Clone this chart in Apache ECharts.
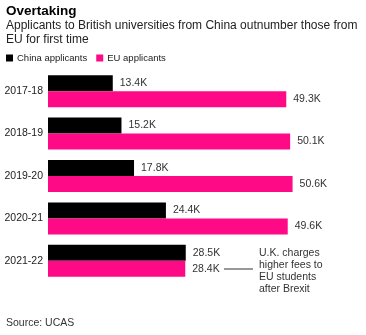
<!DOCTYPE html>
<html><head><meta charset="utf-8">
<script src="https://cdn.jsdelivr.net/npm/echarts@6/dist/echarts.min.js"></script>
<style>html,body{margin:0;padding:0;background:#fff}#c{width:366px;height:335px}</style>
</head><body><div id="c"></div>
<script>
const categories = ['2017-18','2018-19','2019-20','2020-21','2021-22'];
const chinaValues = [13.4,15.2,17.8,24.4,28.5];
const euValues = [49.3,50.1,50.6,49.6,28.4];
const seriesNames = ['China applicants','EU applicants'];
const titleText = 'Overtaking';
const subtitleText = 'Applicants to British universities from China outnumber those from\nEU for first time';
const sourceText = 'Source: UCAS';
const noteText = 'U.K. charges\nhigher fees to\nEU students\nafter Brexit';

const FONT = '"Liberation Sans", Arial, sans-serif';
const chart = echarts.init(document.getElementById('c'), null, {renderer:'canvas'});
const lbl = {show:true, position:'right', distance:7, color:'#333', fontSize:10.5, fontFamily:FONT,
  formatter: p => p.value.toFixed(1) + 'K'};
chart.setOption({
  animation:false,
  textStyle:{fontFamily:FONT},
  title:[
    {text:titleText, left:6, top:0, padding:[4,0,0,0], textStyle:{fontSize:13.5, fontWeight:'bold', color:'#000', fontFamily:FONT}},
    {text:subtitleText, left:6, top:19, padding:0, textStyle:{fontSize:12, fontWeight:'normal', color:'#222', lineHeight:14, fontFamily:FONT}},
    {text:sourceText, left:6, top:318, padding:0, textStyle:{fontSize:10.5, fontWeight:'normal', color:'#333', fontFamily:FONT}}
  ],
  legend:{left:1, top:48, itemWidth:7, itemHeight:7, itemGap:9, icon:'rect',
    textStyle:{fontSize:9.5, color:'#222', fontFamily:FONT, padding:[0,0,0,-1]}},
  grid:{left:48, right:28, top:70, bottom:53, containLabel:false},
  xAxis:{type:'value', min:0, max:60, show:false},
  yAxis:{type:'category', data:categories, inverse:true,
    axisLine:{show:false}, axisTick:{show:false},
    axisLabel:{color:'#222', fontSize:10.5, margin:5, fontFamily:FONT}},
  series:[
    {name:seriesNames[0], type:'bar', data:chinaValues, barWidth:16, barGap:'0%',
      itemStyle:{color:'#000'}, label:lbl},
    {name:seriesNames[1], type:'bar', data:euValues, barWidth:16, barGap:'0%',
      itemStyle:{color:'#ff0a86'}, label:lbl}
  ],
  graphic:[
    {type:'line', shape:{x1:224,y1:269,x2:253,y2:269}, style:{stroke:'#333', lineWidth:1}},
    {type:'text', left:259, top:247, style:{text:noteText, fontSize:10.5, lineHeight:12, fill:'#333', fontFamily:FONT}}
  ]
});
</script></body></html>
